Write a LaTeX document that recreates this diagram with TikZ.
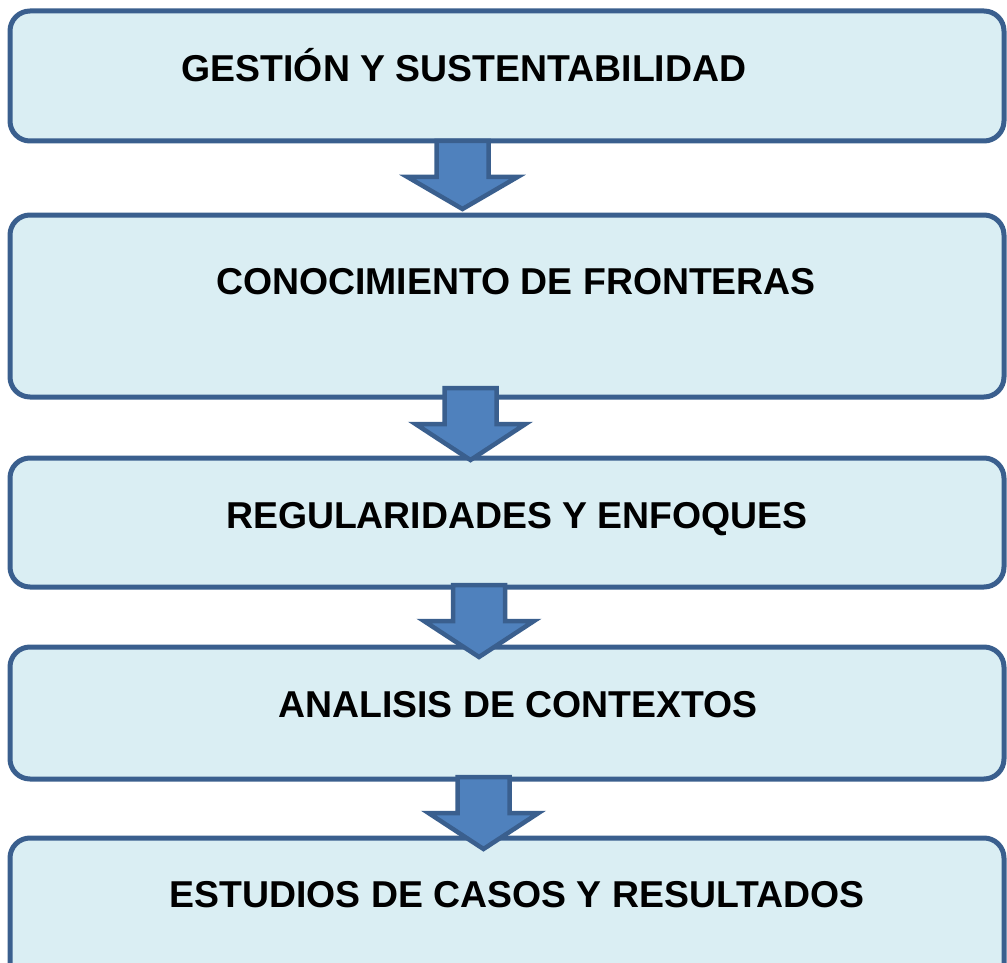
\documentclass[tikz,border=0pt]{standalone}
\usepackage{fontspec}
\setmainfont{Liberation Sans}
\usetikzlibrary{calc}

\definecolor{boxfill}{HTML}{DAEEF3}
\definecolor{boxline}{HTML}{3A5F8E}
\definecolor{arrfill}{HTML}{4F81BD}

\tikzset{
	box/.style = {draw = boxline, fill = boxfill, line width = 5pt, rounded corners = 20pt,
		minimum width = 994pt, outer sep = 0pt, inner sep = 0pt},
	lbl/.style = {font = \bfseries\fontsize{37.4}{44}\selectfont, inner sep = 0pt},
	arrbody/.style = {draw = boxline, fill = arrfill, line width = 4.5pt, line join = miter},
	pics/downarr/.style = {code = {
		\draw[arrbody] (-26, 0) -- (26, 0) -- (26, 36) -- (55, 36) -- (0, #1)
			-- (-55, 36) -- (-26, 36) -- cycle;
	}}
}

\begin{document}
\begin{tikzpicture}[x = 1pt, y = -1pt]
	\useasboundingbox (0, 0) rectangle (1007, 963);
	\clip (0, 0) rectangle (1007, 963);

	\node[box, minimum height = 130pt] (b1) at (507, 76) {};
	\node[box, minimum height = 182pt] (b2) at (507, 306) {};
	\node[box, minimum height = 129pt] (b3) at (507, 522.5) {};
	\node[box, minimum height = 132pt] (b4) at (507, 713) {};
	\node[box, minimum height = 162pt] (b5) at (507, 919) {};

	\node[lbl, anchor = base] (t1) at (464, 82) {GESTIÓN Y SUSTENTABILIDAD};
	\node[lbl, anchor = base] (t2) at (516, 294) {CONOCIMIENTO DE FRONTERAS};
	\node[lbl, anchor = base] (t3) at (517, 528) {REGULARIDADES Y ENFOQUES};
	\node[lbl, anchor = base] (t4) at (518, 717) {ANALISIS DE CONTEXTOS};
	\node[lbl, anchor = base] (t5) at (517, 907) {ESTUDIOS DE CASOS Y RESULTADOS};

	\pic at ([xshift = -44.5pt] b1.south) {downarr = 68};
	\pic at ([xshift = -36.5pt, yshift = 9pt] b2.south) {downarr = 72};
	\pic at ([xshift = -28pt, yshift = 2pt] b3.south) {downarr = 72};
	\pic at ([xshift = -23.5pt, yshift = 2pt] b4.south) {downarr = 72};
\end{tikzpicture}
\end{document}
